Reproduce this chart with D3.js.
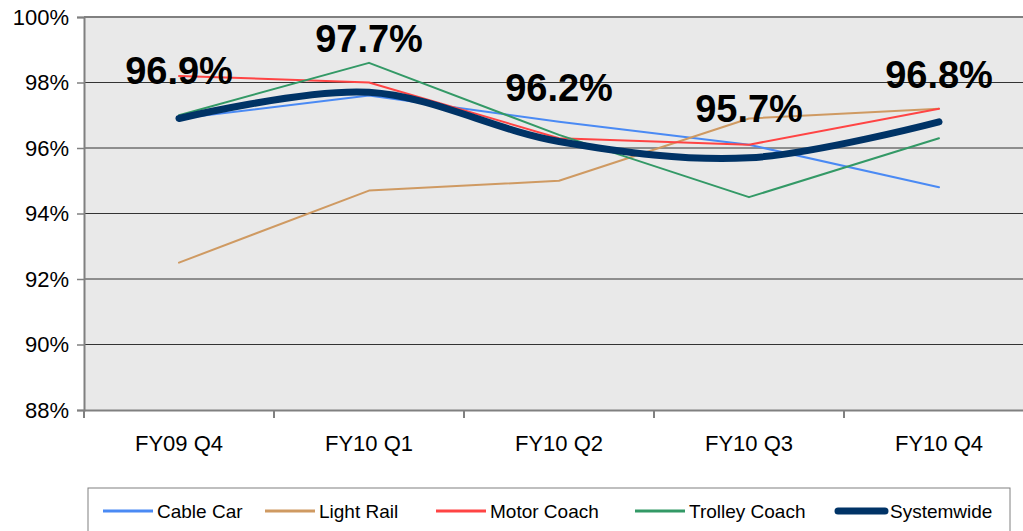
<!DOCTYPE html>
<html>
<head>
<meta charset="utf-8">
<script src="https://cdn.jsdelivr.net/npm/d3@7"></script>
<style>
  body { margin: 0; background: #fff; }
  text { font-family: "Liberation Sans", Arial, sans-serif; }
</style>
</head>
<body>
<svg id="main" width="1023" height="531"></svg>
<script>
const quarters = ["FY09 Q4", "FY10 Q1", "FY10 Q2", "FY10 Q3", "FY10 Q4"];
const cableCar = [96.9, 97.6, 96.8, 96.1, 94.8];
const lightRail = [92.5, 94.7, 95.0, 96.9, 97.2];
const motorCoach = [98.2, 98.0, 96.3, 96.1, 97.2];
const trolleyCoach = [97.0, 98.6, 96.4, 94.5, 96.3];
const systemwide = [96.9, 97.7, 96.2, 95.7, 96.8];
const yTicks = [88, 90, 92, 94, 96, 98, 100];

function draw() {
    const svg = d3.select("#main");
    const left = 84, top = 17, right = 1034, bottom = 410;

    const x = d3.scaleBand().domain(quarters).range([left, right]);
    const y = d3.scaleLinear().domain([88, 100]).range([bottom, top]);

    svg.append('rect')
        .attr('x', left).attr('y', top)
        .attr('width', right - left).attr('height', bottom - top)
        .attr('fill', '#e9e9e9');

    // gridlines
    svg.append('g')
        .selectAll('line')
        .data(yTicks.filter(d => d > 88))
        .join('line')
        .attr('x1', left).attr('x2', right)
        .attr('y1', d => y(d)).attr('y2', d => y(d))
        .attr('stroke', d => d == 100 ? '#808080' : '#333')
        .attr('stroke-width', d => d == 100 ? 2 : 1);

    const yAxis = svg.append('g')
        .attr('transform', `translate(${left},0)`)
        .call(d3.axisLeft(y).tickValues(yTicks).tickFormat(d => d + '%').tickSize(7).tickPadding(8));
    yAxis.select('.domain').attr('stroke', '#808080').attr('stroke-width', 2);
    yAxis.selectAll('.tick line').attr('stroke', '#808080').attr('stroke-width', 1.5);
    yAxis.selectAll('text').attr('font-size', 22).attr('fill', '#000');

    const xAxis = svg.append('g')
        .attr('transform', `translate(0,${bottom})`)
        .call(d3.axisBottom(x).tickSize(0).tickPadding(25));
    xAxis.select('.domain').attr('stroke', '#808080').attr('stroke-width', 2);
    xAxis.selectAll('text').attr('font-size', 22).attr('fill', '#000');
    svg.append('g')
        .selectAll('line')
        .data(quarters)
        .join('line')
        .attr('x1', d => x(d)).attr('x2', d => x(d))
        .attr('y1', bottom).attr('y2', bottom + 8)
        .attr('stroke', '#808080').attr('stroke-width', 2);

    const series = [
        { name: "Cable Car", values: cableCar, color: "#4a8af4", width: 2 },
        { name: "Light Rail", values: lightRail, color: "#cf9a62", width: 2 },
        { name: "Motor Coach", values: motorCoach, color: "#ff4444", width: 2 },
        { name: "Trolley Coach", values: trolleyCoach, color: "#339966", width: 2 },
        { name: "Systemwide", values: systemwide, color: "#003366", width: 7, smooth: true }
    ];

    const cx = d => x(d) + x.bandwidth() / 2;
    series.forEach(s => {
        const line = d3.line()
            .x((d, i) => cx(quarters[i]))
            .y(d => y(d))
            .curve(s.smooth ? d3.curveCatmullRom.alpha(0) : d3.curveLinear);
        svg.append('path')
            .datum(s.values)
            .attr('d', line)
            .attr('fill', 'none')
            .attr('stroke', s.color)
            .attr('stroke-width', s.width)
            .attr('stroke-linecap', 'round')
            .attr('stroke-linejoin', 'round');
    });

    // systemwide labels
    const labelDy = [-35, -40, -40, -36, -34];
    svg.append('g')
        .selectAll('text')
        .data(systemwide)
        .join('text')
        .attr('x', (d, i) => cx(quarters[i]))
        .attr('y', (d, i) => y(d) + labelDy[i])
        .attr('text-anchor', 'middle')
        .attr('font-size', 38)
        .attr('font-weight', 'bold')
        .text(d => d.toFixed(1) + '%');

    // legend
    svg.append('rect')
        .attr('x', 88).attr('y', 488)
        .attr('width', 922).attr('height', 50)
        .attr('fill', '#fff').attr('stroke', '#808080').attr('stroke-width', 1);
    const legendX = [103, 265, 436, 635, 835];
    const leg = svg.append('g')
        .selectAll('g')
        .data(series)
        .join('g')
        .attr('transform', (d, i) => `translate(${legendX[i]},511)`);
    leg.append('line')
        .attr('x1', d => d.width == 2 ? 0 : 3).attr('x2', d => d.width == 2 ? 50 : 50)
        .attr('y1', 0).attr('y2', 0)
        .attr('stroke', d => d.color)
        .attr('stroke-width', d => d.width == 2 ? 3 : 7)
        .attr('stroke-linecap', d => d.width == 2 ? 'butt' : 'round');
    leg.append('text')
        .attr('x', d => d.width == 2 ? 54 : 55)
        .attr('y', 7)
        .attr('font-size', 19)
        .text(d => d.name);
}

draw()
</script>
</body>
</html>
